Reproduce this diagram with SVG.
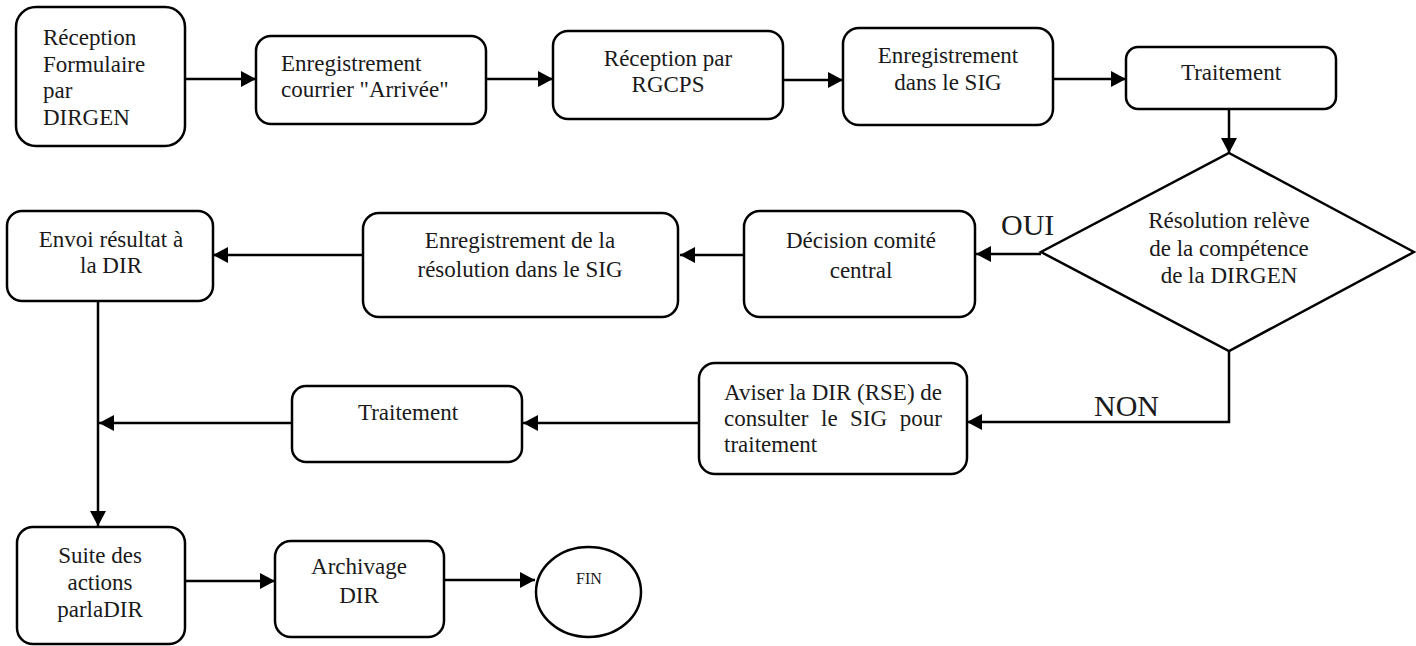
<svg xmlns="http://www.w3.org/2000/svg" width="1416" height="646" viewBox="0 0 1416 646" font-family="'Liberation Serif', 'Times New Roman', serif">
  <style>
    .box { fill: #ffffff; stroke: #000000; stroke-width: 2.5; }
    .conn { fill: none; stroke: #000000; stroke-width: 2.5; }
    text { font-family: 'Liberation Serif', 'Times New Roman', serif; fill: #1a1a1a; }
    .t { font-size: 23px; }
    .c { text-anchor: middle; }
    .lbl { font-size: 30px; }
    .small { font-size: 16px; text-anchor: middle; }
  </style>
  <defs>
    <marker id="arr" markerUnits="userSpaceOnUse" markerWidth="15" markerHeight="16" refX="15" refY="8" orient="auto">
      <path d="M0,0 L15,8 L0,16 z" fill="#000000"/>
    </marker>
  </defs>
  <rect x="0" y="0" width="1416" height="646" fill="#ffffff"/>

  <g id="connectors">
    <line class="conn" x1="185" y1="79" x2="256" y2="79" marker-end="url(#arr)"/>
    <line class="conn" x1="486" y1="79" x2="553" y2="79" marker-end="url(#arr)"/>
    <line class="conn" x1="783" y1="80" x2="843" y2="80" marker-end="url(#arr)"/>
    <line class="conn" x1="1053" y1="79" x2="1126" y2="79" marker-end="url(#arr)"/>
    <line class="conn" x1="1229" y1="109" x2="1229" y2="153" marker-end="url(#arr)"/>
    <line class="conn" x1="1041" y1="254" x2="976" y2="254" marker-end="url(#arr)"/>
    <line class="conn" x1="744" y1="255" x2="680" y2="255" marker-end="url(#arr)"/>
    <line class="conn" x1="363" y1="255" x2="213" y2="255" marker-end="url(#arr)"/>
    <line class="conn" x1="98" y1="301" x2="98" y2="526" marker-end="url(#arr)"/>
    <line class="conn" x1="292" y1="423" x2="99" y2="423" marker-end="url(#arr)"/>
    <line class="conn" x1="699" y1="423" x2="523" y2="423" marker-end="url(#arr)"/>
    <polyline class="conn" points="1229,351 1229,422 967,422" marker-end="url(#arr)"/>
    <line class="conn" x1="185" y1="581" x2="275" y2="581" marker-end="url(#arr)"/>
    <line class="conn" x1="444" y1="580" x2="535" y2="580" marker-end="url(#arr)"/>
    <text class="lbl" x="1001" y="235">OUI</text>
    <text class="lbl" x="1094" y="416">NON</text>
  </g>

  <g id="n1">
    <rect class="box" x="16" y="7" width="169" height="139" rx="20"/>
    <text class="t" x="43" y="45">Réception</text>
    <text class="t" x="43" y="72">Formulaire</text>
    <text class="t" x="43" y="98">par</text>
    <text class="t" x="43" y="125">DIRGEN</text>
  </g>
  <g id="n2">
    <rect class="box" x="256" y="36" width="230" height="88" rx="15"/>
    <text class="t" x="281" y="71">Enregistrement</text>
    <text class="t" x="281" y="97">courrier "Arrivée"</text>
  </g>
  <g id="n3">
    <rect class="box" x="553" y="31" width="230" height="88" rx="15"/>
    <text class="t c" x="668" y="66">Réception par</text>
    <text class="t c" x="668" y="92">RGCPS</text>
  </g>
  <g id="n4">
    <rect class="box" x="843" y="28" width="210" height="97" rx="16"/>
    <text class="t c" x="948" y="63">Enregistrement</text>
    <text class="t c" x="948" y="90">dans le SIG</text>
  </g>
  <g id="n5">
    <rect class="box" x="1126" y="47" width="210" height="62" rx="12"/>
    <text class="t c" x="1231" y="80">Traitement</text>
  </g>
  <g id="n6">
    <polygon class="box" points="1229,153 1414,252 1229,351 1041,252"/>
    <text class="t c" x="1229" y="228">Résolution relève</text>
    <text class="t c" x="1229" y="256">de la compétence</text>
    <text class="t c" x="1229" y="283">de la DIRGEN</text>
  </g>
  <g id="n7">
    <rect class="box" x="744" y="211" width="231" height="106" rx="16"/>
    <text class="t c" x="861" y="248">Décision comité</text>
    <text class="t c" x="861" y="278">central</text>
  </g>
  <g id="n8">
    <rect class="box" x="363" y="213" width="315" height="104" rx="16"/>
    <text class="t c" x="520" y="248">Enregistrement de la</text>
    <text class="t c" x="520" y="277">résolution dans le SIG</text>
  </g>
  <g id="n9">
    <rect class="box" x="7" y="211" width="206" height="90" rx="15"/>
    <text class="t c" x="111" y="247">Envoi résultat à</text>
    <text class="t c" x="111" y="273">la DIR</text>
  </g>
  <g id="n10">
    <rect class="box" x="699" y="363" width="268" height="111" rx="16"/>
    <text class="t" x="724" y="400">Aviser la DIR (RSE) de</text>
    <text class="t" x="724" y="426">consulter</text>
    <text class="t" x="821" y="426">le</text>
    <text class="t" x="850" y="426">SIG</text>
    <text class="t" x="942" y="426" text-anchor="end">pour</text>
    <text class="t" x="724" y="452">traitement</text>
  </g>
  <g id="n11">
    <rect class="box" x="292" y="386" width="230" height="76" rx="14"/>
    <text class="t c" x="408" y="420">Traitement</text>
  </g>
  <g id="n12">
    <rect class="box" x="17" y="527" width="168" height="117" rx="16"/>
    <text class="t c" x="100" y="563">Suite des</text>
    <text class="t c" x="100" y="590">actions</text>
    <text class="t c" x="100" y="617">parlaDIR</text>
  </g>
  <g id="n13">
    <rect class="box" x="275" y="541" width="169" height="96" rx="16"/>
    <text class="t c" x="359" y="574">Archivage</text>
    <text class="t c" x="359" y="603">DIR</text>
  </g>
  <g id="n14">
    <ellipse class="box" cx="588.5" cy="592" rx="52.5" ry="45"/>
    <text class="small" x="589" y="584">FIN</text>
  </g>
</svg>
